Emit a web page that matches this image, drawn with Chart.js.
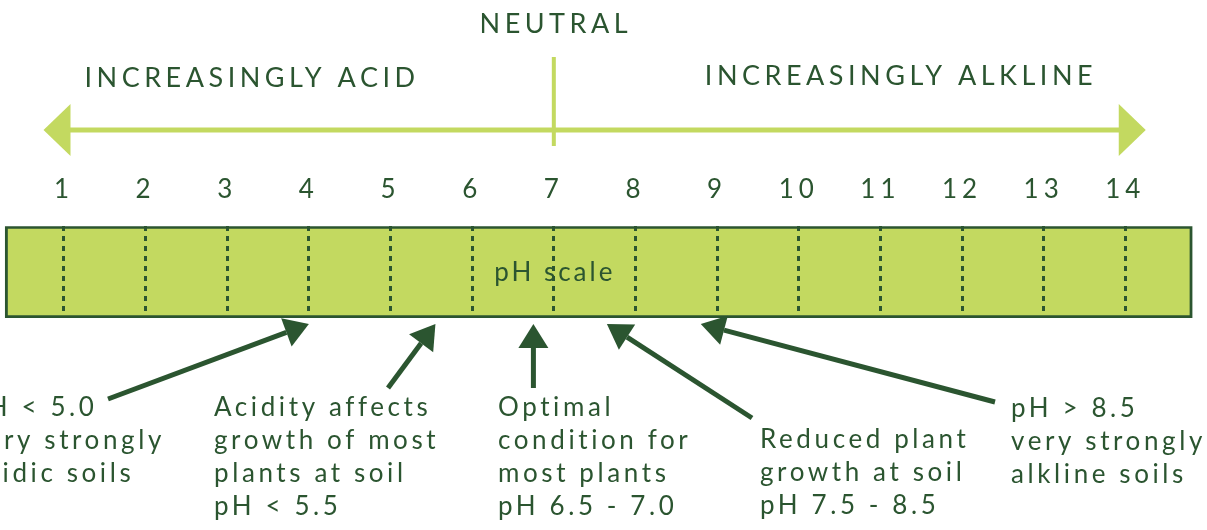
<!DOCTYPE html>
<html>
<head>
<meta charset="utf-8">
<script src="https://cdn.jsdelivr.net/npm/chart.js@4"></script>
<style>
  html, body { margin: 0; padding: 0; background: #fff; }
</style>
</head>
<body>
<canvas id="chPh" width="1207" height="530"></canvas>
<script>
/* pH scale chart */

// colors
var LIGHT = '#c3d960';
var DARK = '#2b5530';

// data
var phTicks = [1, 2, 3, 4, 5, 6, 7, 8, 9, 10, 11, 12, 13, 14];
var scaleRange = [0.28, 14.82];   // extent of the pH bar
var arrowRange = [0.75, 14.25];   // acid <-> alkaline arrow tips
var neutralPH = 7;
var headers = ['INCREASINGLY ACID', 'NEUTRAL', 'INCREASINGLY ALKLINE'];
var noteTargets = [4.0, 5.55, 6.75, 7.65, 8.8];
var noteTexts = [
  ['pH < 5.0', 'very strongly', 'acidic soils'],
  ['Acidity affects', 'growth of most', 'plants at soil', 'pH < 5.5'],
  ['Optimal', 'condition for', 'most plants', 'pH 6.5 - 7.0'],
  ['Reduced plant', 'growth at soil', 'pH 7.5 - 8.5'],
  ['pH > 8.5', 'very strongly', 'alkline soils']
];

Chart.defaults.font.family = 'Lato';

function arrow(ctx, x1, y1, x2, y2, len, half) {
  var a = Math.atan2(y2 - y1, x2 - x1);
  var bx = x2 - len * Math.cos(a), by = y2 - len * Math.sin(a);
  ctx.beginPath();
  ctx.moveTo(x1, y1);
  ctx.lineTo(bx, by);
  ctx.stroke();
  ctx.beginPath();
  ctx.moveTo(x2, y2);
  ctx.lineTo(bx + half * Math.sin(a), by - half * Math.cos(a));
  ctx.lineTo(bx - half * Math.sin(a), by + half * Math.cos(a));
  ctx.closePath();
  ctx.fill();
}

// text, arrows and labels around the bar
var overlay = {
  id: 'overlay',
  beforeDraw: function (chart) {
    // wide tracking for the tick numbers
    chart.ctx.letterSpacing = '5px';
  },
  afterDraw: function (chart) {
    var ctx = chart.ctx, area = chart.chartArea, x = chart.scales.x;
    ctx.save();

    // top arrow
    var lx = x.getPixelForValue(arrowRange[0]), rx = x.getPixelForValue(arrowRange[1]);
    var ay = 130;
    ctx.fillStyle = LIGHT;
    ctx.fillRect(lx + 26, ay - 2.5, rx - lx - 52, 5);
    ctx.beginPath();
    ctx.moveTo(lx, ay); ctx.lineTo(lx + 27, ay - 26); ctx.lineTo(lx + 27, ay + 26);
    ctx.closePath(); ctx.fill();
    ctx.beginPath();
    ctx.moveTo(rx, ay); ctx.lineTo(rx - 27, ay - 26); ctx.lineTo(rx - 27, ay + 26);
    ctx.closePath(); ctx.fill();
    var nx = x.getPixelForValue(neutralPH);
    ctx.fillRect(nx - 2, 57, 4, 89);

    // headers
    ctx.fillStyle = DARK;
    ctx.font = '27px Lato';
    ctx.letterSpacing = '4.5px';
    ctx.textAlign = 'center';
    ctx.textBaseline = 'alphabetic';
    ctx.fillText(headers[0], 252, 87);
    ctx.fillText(headers[1], nx + 2, 33);
    ctx.fillText(headers[2], 901, 85);

    // label inside the bar
    ctx.font = '26px Lato';
    ctx.letterSpacing = '3px';
    ctx.fillText('pH scale', nx + 1, (area.top + area.bottom) / 2 + 9);

    // notes
    var layout = [
      {x: -30, y: 416, tail: [108, 399]},
      {x: 214, y: 416, tail: [388, 388]},
      {x: 498, y: 416, tail: [null, 388]},
      {x: 760, y: 448, tail: [752, 418]},
      {x: 1011, y: 417, tail: [995, 402]}
    ];
    ctx.textAlign = 'left';
    ctx.letterSpacing = '3.6px';
    ctx.strokeStyle = DARK;
    ctx.lineWidth = 5;
    noteTexts.forEach(function (lines, i) {
      var l = layout[i];
      lines.forEach(function (s, j) { ctx.fillText(s, l.x, l.y + j * 33); });
      var tx = x.getPixelForValue(noteTargets[i]);
      var sx = l.tail[0] === null ? tx : l.tail[0];
      arrow(ctx, sx, l.tail[1], tx, area.bottom + 6, 24, 15);
    });
    ctx.restore();
  }
};

var chPh = document.getElementById('chPh');
if (chPh) {
  new Chart(chPh, {
    type: 'bar',
    data: {
      labels: ['pH scale'],
      datasets: [{
        data: [scaleRange],
        backgroundColor: LIGHT,
        borderColor: DARK,
        borderWidth: 3,
        borderSkipped: false,
        barPercentage: 1,
        categoryPercentage: 1
      }]
    },
    options: {
      indexAxis: 'y',
      responsive: false,
      animation: false,
      layout: {padding: {top: 153, bottom: 212, left: 0, right: 0}},
      plugins: {legend: {display: false}, tooltip: {enabled: false}},
      scales: {
        x: {
          type: 'linear', position: 'top', min: 0.217, max: 15,
          afterBuildTicks: function (s) { s.ticks = phTicks.map(function (v) { return {value: v}; }); },
          ticks: {font: {size: 26}, color: DARK, padding: 21, autoSkip: false, maxRotation: 0},
          grid: {color: DARK, lineWidth: 3, drawTicks: false, z: 1},
          border: {display: false, dash: [5, 5]}
        },
        y: {display: false}
      }
    },
    plugins: [overlay]
  });
}
</script>
</body>
</html>
